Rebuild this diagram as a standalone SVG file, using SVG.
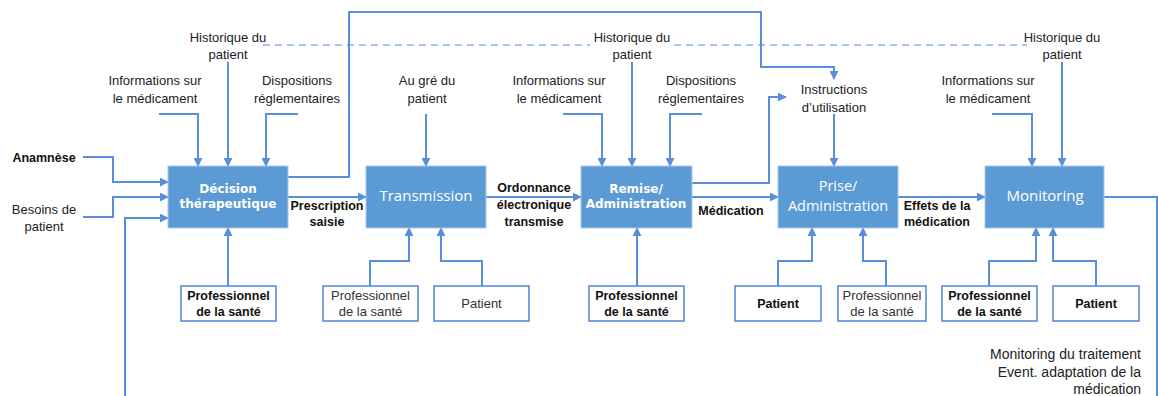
<svg xmlns="http://www.w3.org/2000/svg" width="1158" height="396" viewBox="0 0 1158 396">
<style>
.ln{fill:none;stroke:#5A8ED8;stroke-width:2}
.dash{fill:none;stroke:#8DB0E4;stroke-width:1.6;stroke-dasharray:7 5}
.box{fill:#5B9BD5;stroke:#A9C8EA;stroke-width:1}
.wb{fill:#fff;stroke:#5A8ED8;stroke-width:1.6}
.bt{font-family:"DejaVu Sans",Verdana,sans-serif;font-weight:bold;font-size:12px;fill:#fff;text-anchor:middle}
.rt{font-family:"Open Sans","Noto Sans",sans-serif;font-size:15px;fill:#fff;text-anchor:middle}
.lb{font-family:"Liberation Sans",Arial,sans-serif;font-size:13px;fill:#222;text-anchor:middle}
.lbe{font-family:"Liberation Sans",Arial,sans-serif;font-size:14px;fill:#222;text-anchor:end}
.lbb{font-family:"Liberation Sans",Arial,sans-serif;font-size:12.5px;font-weight:bold;fill:#111;text-anchor:middle}
.pr{font-family:"Liberation Sans",Arial,sans-serif;font-size:13px;fill:#333;text-anchor:middle}
</style>
<defs>
<marker id="ah" viewBox="0 0 10 10" refX="9" refY="5" markerWidth="9" markerHeight="9" markerUnits="userSpaceOnUse" orient="auto">
<path d="M0,0 L10,5 L0,10 z" fill="#5A8ED8"/>
</marker>
</defs>
<rect width="1158" height="396" fill="#fff"/>

<g id="connectors">
<path class="dash" d="M263,45 H590 M674,45 H1027"/>
<path class="ln" d="M83,157 H113 V182 H168" marker-end="url(#ah)"/>
<path class="ln" d="M83,217 H113 V197 H168" marker-end="url(#ah)"/>
<path class="ln" d="M125,396 V218 H168" marker-end="url(#ah)"/>
<path class="ln" d="M159,114 H198 V166" marker-end="url(#ah)"/>
<path class="ln" d="M228,62 V166" marker-end="url(#ah)"/>
<path class="ln" d="M298,114 H266 V166" marker-end="url(#ah)"/>
<path class="ln" d="M426,114 V166" marker-end="url(#ah)"/>
<path class="ln" d="M563,114 H602 V166" marker-end="url(#ah)"/>
<path class="ln" d="M632,62 V166" marker-end="url(#ah)"/>
<path class="ln" d="M702,114 H670 V166" marker-end="url(#ah)"/>
<path class="ln" d="M834,114 V166" marker-end="url(#ah)"/>
<path class="ln" d="M992,114 H1032 V166" marker-end="url(#ah)"/>
<path class="ln" d="M1062,62 V166" marker-end="url(#ah)"/>
<path class="ln" d="M288,197 H366" marker-end="url(#ah)"/>
<path class="ln" d="M486,197 H581" marker-end="url(#ah)"/>
<path class="ln" d="M692,197 H778" marker-end="url(#ah)"/>
<path class="ln" d="M898,197 H985" marker-end="url(#ah)"/>
<path class="ln" d="M288,177 H349 V12 H761 V67 H834 V79" marker-end="url(#ah)"/>
<path class="ln" d="M692,183 H769 V97 H786" marker-end="url(#ah)"/>
<path class="ln" d="M1104,197 H1157 V396"/>
<path class="ln" d="M228,286 V228" marker-end="url(#ah)"/>
<path class="ln" d="M370,286 V261 H409 V228" marker-end="url(#ah)"/>
<path class="ln" d="M482,286 V261 H441 V228" marker-end="url(#ah)"/>
<path class="ln" d="M637,286 V228" marker-end="url(#ah)"/>
<path class="ln" d="M778,286 V261 H812 V228" marker-end="url(#ah)"/>
<path class="ln" d="M886,286 V261 H863 V228" marker-end="url(#ah)"/>
<path class="ln" d="M989,286 V261 H1036 V228" marker-end="url(#ah)"/>
<path class="ln" d="M1096,286 V261 H1053 V228" marker-end="url(#ah)"/>
</g>

<g id="labels">
<text class="lb" x="228" y="42">Historique du</text>
<text class="lb" x="228" y="59">patient</text>
<text class="lb" x="632" y="42">Historique du</text>
<text class="lb" x="632" y="59">patient</text>
<text class="lb" x="1062" y="42">Historique du</text>
<text class="lb" x="1062" y="59">patient</text>
<text class="lb" x="155" y="85">Informations sur</text>
<text class="lb" x="155" y="103">le médicament</text>
<text class="lb" x="297" y="85">Dispositions</text>
<text class="lb" x="297" y="103">réglementaires</text>
<text class="lb" x="427" y="85">Au gré du</text>
<text class="lb" x="427" y="103">patient</text>
<text class="lb" x="559" y="85">Informations sur</text>
<text class="lb" x="559" y="103">le médicament</text>
<text class="lb" x="701" y="85">Dispositions</text>
<text class="lb" x="701" y="103">réglementaires</text>
<text class="lb" x="834" y="94">Instructions</text>
<text class="lb" x="834" y="112">d’utilisation</text>
<text class="lb" x="988" y="85">Informations sur</text>
<text class="lb" x="988" y="103">le médicament</text>
<text class="lbb" x="44" y="162">Anamnèse</text>
<text class="lb" x="44" y="214">Besoins de</text>
<text class="lb" x="44" y="231">patient</text>
<text class="lbb" x="327" y="210">Prescription</text>
<text class="lbb" x="327" y="226">saisie</text>
<text class="lbb" x="534" y="192">Ordonnance</text>
<text class="lbb" x="534" y="209">électronique</text>
<text class="lbb" x="534" y="226">transmise</text>
<text class="lbb" x="731" y="215">Médication</text>
<text class="lbb" x="937" y="210">Effets de la</text>
<text class="lbb" x="937" y="226">médication</text>
<text class="lbe" x="1141" y="359">Monitoring du traitement</text>
<text class="lbe" x="1141" y="377">Event. adaptation de la</text>
<text class="lbe" x="1141" y="394">médication</text>
</g>

<g id="decision">
<rect class="box" x="168" y="166" width="120" height="62"/>
<text class="bt" x="228" y="193">Décision</text>
<text class="bt" x="228" y="208">thérapeutique</text>
</g>
<g id="transmission">
<rect class="box" x="366" y="166" width="120" height="62"/>
<text class="rt" x="426" y="201">Transmission</text>
</g>
<g id="remise">
<rect class="box" x="581" y="166" width="111" height="62"/>
<text class="bt" x="636" y="193">Remise/</text>
<text class="bt" x="636" y="208">Administration</text>
</g>
<g id="prise">
<rect class="box" x="778" y="166" width="120" height="62"/>
<text class="rt" x="838" y="191" style="font-size:14.5px">Prise/</text>
<text class="rt" x="838" y="211" style="font-size:14.5px">Administration</text>
</g>
<g id="monitoring">
<rect class="box" x="985" y="166" width="119" height="62"/>
<text class="rt" x="1045" y="201">Monitoring</text>
</g>

<g id="pro1">
<rect class="wb" x="181" y="286" width="95" height="35"/>
<text class="lbb" x="228.5" y="300">Professionnel</text>
<text class="lbb" x="228.5" y="316">de la santé</text>
</g>
<g id="pro2">
<rect class="wb" x="323" y="286" width="95" height="35"/>
<text class="pr" x="370.5" y="300">Professionnel</text>
<text class="pr" x="370.5" y="316">de la santé</text>
</g>
<g id="patient1">
<rect class="wb" x="434" y="286" width="95" height="35"/>
<text class="pr" x="481.5" y="308">Patient</text>
</g>
<g id="pro3">
<rect class="wb" x="589" y="286" width="95" height="35"/>
<text class="lbb" x="636.5" y="300">Professionnel</text>
<text class="lbb" x="636.5" y="316">de la santé</text>
</g>
<g id="patient2">
<rect class="wb" x="735" y="286" width="86" height="35"/>
<text class="lbb" x="778" y="308">Patient</text>
</g>
<g id="pro4">
<rect class="wb" x="838" y="286" width="88" height="35"/>
<text class="pr" x="882" y="300">Professionnel</text>
<text class="pr" x="882" y="316">de la santé</text>
</g>
<g id="pro5">
<rect class="wb" x="942" y="286" width="95" height="35"/>
<text class="lbb" x="989.5" y="300">Professionnel</text>
<text class="lbb" x="989.5" y="316">de la santé</text>
</g>
<g id="patient3">
<rect class="wb" x="1053" y="286" width="86" height="35"/>
<text class="lbb" x="1096" y="308">Patient</text>
</g>
</svg>
